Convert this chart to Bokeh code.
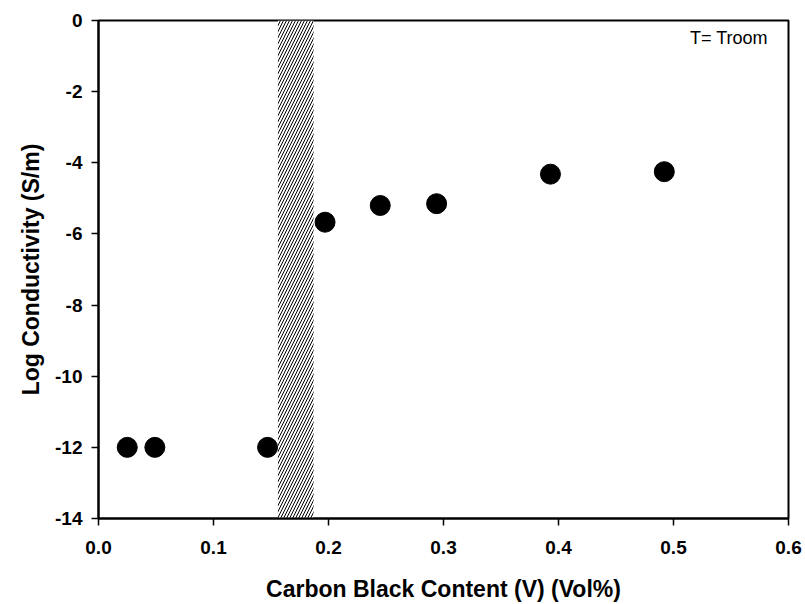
from bokeh.plotting import figure
from bokeh.models import Range1d, FixedTicker, PrintfTickFormatter, Label
from bokeh.embed import file_html
from bokeh.resources import INLINE

# Data
cb_content = [0.025, 0.049, 0.147, 0.197, 0.245, 0.294, 0.393, 0.492]
log_cond = [-12.0, -12.0, -12.0, -5.67, -5.2, -5.15, -4.32, -4.25]
band_left = [0.156]
band_right = [0.187]
x_ticks = [0.0, 0.1, 0.2, 0.3, 0.4, 0.5, 0.6]
y_ticks = [-14, -12, -10, -8, -6, -4, -2, 0]

FONT = "Liberation Sans"

p = figure(width=805, height=604, output_backend="svg", toolbar_location=None,
           x_range=Range1d(0, 0.6), y_range=Range1d(-14, 0),
           min_border_left=98, min_border_right=17, min_border_top=20, min_border_bottom=86)

p.grid.visible = False
p.outline_line_color = "black"
p.outline_line_width = 2
p.background_fill_color = "white"
p.border_fill_color = "white"

# hatched percolation band
p.quad(left=band_left, right=band_right, bottom=[-14], top=[0],
       fill_color="white", line_color=None, hatch_pattern="/",
       hatch_color="black", hatch_scale=6, hatch_weight=1)

p.scatter(cb_content, log_cond, size=20, fill_color="black", line_color="black")

for ax in (p.xaxis[0], p.yaxis[0]):
    ax.axis_line_width = 2
    ax.axis_line_color = "black"
    ax.major_tick_in = 0
    ax.major_tick_out = 7
    ax.major_tick_line_width = 1.5
    ax.minor_tick_line_color = None
    ax.major_label_text_font = FONT
    ax.major_label_text_font_style = "bold"
    ax.major_label_text_font_size = "19px"
    ax.major_label_text_color = "black"
    ax.axis_label_text_font = FONT
    ax.axis_label_text_font_style = "bold"
    ax.axis_label_text_font_size = "23px"
    ax.axis_label_text_color = "black"

p.xaxis[0].ticker = FixedTicker(ticks=x_ticks)
p.yaxis[0].ticker = FixedTicker(ticks=y_ticks)
p.xaxis[0].formatter = PrintfTickFormatter(format="%.1f")
p.yaxis[0].formatter = PrintfTickFormatter(format="%d")
p.xaxis[0].axis_label = "Carbon Black Content (V) (Vol%)"
p.yaxis[0].axis_label = "Log Conductivity (S/m)"
p.xaxis[0].major_label_standoff = 15
p.yaxis[0].major_label_standoff = 9
p.xaxis[0].axis_label_standoff = 19
p.yaxis[0].axis_label_standoff = 8

p.add_layout(Label(x=0.582, y=-0.5, text="T= Troom", text_align="right",
                   text_baseline="middle", text_font=FONT,
                   text_font_size="18px", text_color="black"))

open("out.html", "w").write(file_html(p, INLINE))
